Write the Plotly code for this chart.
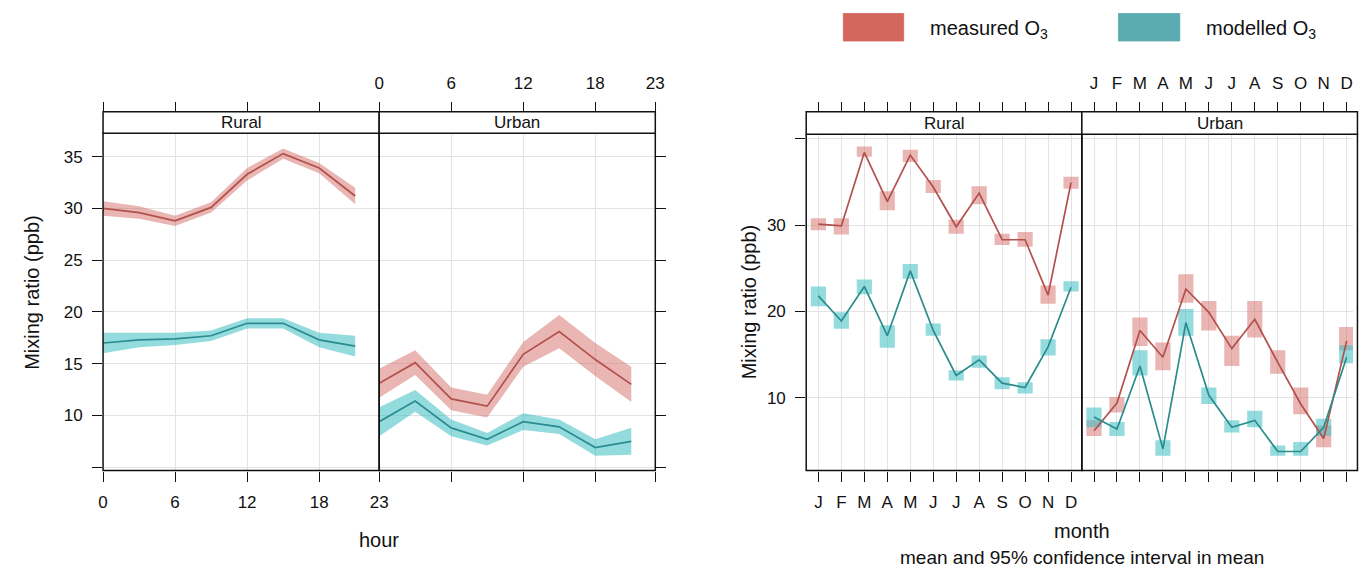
import plotly.graph_objects as go

# page has 8px body margins; the figure fills the rest exactly
W, H = 1370, 579
MRG = 8
FW, FH = W - 2 * MRG, H - 2 * MRG

# ---------------- data ----------------
hours = [0, 3, 6, 9, 12, 15, 18, 21]
hour_ticks = [0, 6, 12, 18, 23]

rural_meas_h = [30.0, 29.6, 28.8, 30.1, 33.3, 35.3, 33.9, 31.2]
rural_meas_h_ci = [0.7, 0.6, 0.5, 0.5, 0.6, 0.5, 0.5, 0.8]
rural_mod_h = [17.0, 17.3, 17.4, 17.7, 18.9, 18.9, 17.3, 16.7]
rural_mod_h_ci = [1.0, 0.7, 0.6, 0.5, 0.5, 0.5, 0.7, 1.0]
urban_meas_h = [13.1, 15.1, 11.6, 10.9, 15.9, 18.1, 15.4, 13.0]
urban_meas_h_ci = [1.4, 1.2, 1.1, 1.1, 1.2, 1.6, 1.6, 1.7]
urban_mod_h = [9.4, 11.4, 8.8, 7.7, 9.4, 8.9, 6.9, 7.5]
urban_mod_h_ci = [1.4, 1.05, 0.8, 0.6, 0.8, 0.7, 0.8, 1.3]

months = list(range(1, 13))
month_labels = ["J", "F", "M", "A", "M", "J", "J", "A", "S", "O", "N", "D"]

rural_meas_m = [30.1, 29.9, 38.4, 32.7, 38.1, 34.4, 29.8, 33.7, 28.3, 28.3, 21.9, 34.9]
rural_meas_m_lo = [29.4, 28.9, 37.9, 31.7, 37.3, 33.7, 29.0, 32.4, 27.7, 27.5, 20.9, 34.2]
rural_meas_m_hi = [30.8, 30.8, 39.1, 33.9, 38.7, 35.2, 30.6, 34.5, 29.0, 29.2, 23.0, 35.6]
rural_mod_m = [21.8, 18.9, 22.9, 17.2, 24.7, 17.8, 12.6, 14.4, 11.7, 11.2, 15.9, 22.8]
rural_mod_m_lo = [20.6, 18.0, 22.0, 15.8, 23.8, 17.2, 12.0, 13.5, 11.0, 10.5, 14.9, 22.3]
rural_mod_m_hi = [22.9, 19.9, 23.7, 18.4, 25.5, 18.6, 13.2, 14.9, 12.4, 11.8, 16.8, 23.5]
urban_meas_m = [6.2, 9.4, 17.8, 14.7, 22.6, 19.9, 15.7, 19.1, 14.1, 9.3, 5.3, 16.6]
urban_meas_m_lo = [5.6, 8.3, 16.0, 13.2, 21.0, 17.8, 13.7, 17.0, 12.8, 8.1, 4.3, 15.5]
urban_meas_m_hi = [7.4, 10.1, 19.3, 16.4, 24.3, 21.2, 17.2, 21.2, 15.5, 11.2, 6.8, 18.2]
urban_mod_m = [7.8, 6.4, 13.7, 4.1, 18.7, 10.3, 6.6, 7.4, 3.8, 3.8, 6.6, 14.7]
urban_mod_m_lo = [6.6, 5.6, 12.6, 3.3, 17.2, 9.3, 6.0, 6.6, 3.3, 3.3, 5.6, 14.0]
urban_mod_m_hi = [8.9, 7.2, 15.5, 5.1, 20.3, 11.2, 7.4, 8.5, 4.5, 4.9, 7.6, 16.1]

y_ticks_hour = [10, 15, 20, 25, 30, 35]
y_minor_hour = [5]
y_ticks_month = [10, 20, 30]
y_minor_month = [40]

# ---------------- styles ----------------
MEAS_LINE = "#b3504c"
MOD_LINE = "#2a8c8e"
MEAS_FILL = "rgba(212,110,105,0.50)"
MOD_FILL = "rgba(60,190,195,0.55)"
MEAS_LEG = "#d4665e"
MOD_LEG = "#5aabb0"
GRID = "#e3e3e3"
TICKFONT = dict(family="Liberation Sans, Arial, sans-serif", size=17, color="#111")
TXTFONT = dict(family="Liberation Sans, Arial, sans-serif", size=20, color="#111")


def px(x):
    return (x - MRG) / FW


def py(y):
    return 1 - (y - MRG) / FH


# panel geometry (page pixels)
L_R = (99, 378)
L_U = (378, 657)
R_R = (809.5, 1088)
R_U = (1088, 1366.5)
FIG_RIGHT = W - MRG
PAN_TOP_L, PAN_BOT = 133.3, 470.5
PAN_TOP_R = 134.3
STRIP_TOP = 111.7

hr_range = [0, 23]
mo_range = [0.47, 12.47]
mo_scale = (mo_range[1] - mo_range[0]) / (R_U[1] - R_U[0])
mo_range_u = [mo_range[0], mo_range[0] + (FIG_RIGHT - R_U[0]) * mo_scale]
y_range_h = [4.68, 37.26]
y_range_m = [1.6, 40.5]

fig = go.Figure()


def band(x, m, ci, fill, xa, ya):
    lo = [a - c for a, c in zip(m, ci)]
    hi = [a + c for a, c in zip(m, ci)]
    fig.add_trace(go.Scatter(x=list(x) + list(x)[::-1], y=hi + lo[::-1], fill="toself",
                             fillcolor=fill, line=dict(width=0), mode="lines",
                             hoverinfo="skip", showlegend=False, xaxis=xa, yaxis=ya))


def line(x, m, color, xa, ya):
    fig.add_trace(go.Scatter(x=x, y=m, mode="lines", line=dict(color=color, width=1.7),
                             showlegend=False, xaxis=xa, yaxis=ya))


def boxes(x, lo, hi, fill, xa, ya):
    fig.add_trace(go.Bar(x=x, y=[h - l for h, l in zip(hi, lo)], base=lo, width=0.66,
                         marker=dict(color=fill, line=dict(width=0)), showlegend=False,
                         xaxis=xa, yaxis=ya))


# left (hour) plot
band(hours, rural_meas_h, rural_meas_h_ci, MEAS_FILL, "x", "y")
band(hours, rural_mod_h, rural_mod_h_ci, MOD_FILL, "x", "y")
line(hours, rural_meas_h, MEAS_LINE, "x", "y")
line(hours, rural_mod_h, MOD_LINE, "x", "y")
band(hours, urban_meas_h, urban_meas_h_ci, MEAS_FILL, "x2", "y2")
band(hours, urban_mod_h, urban_mod_h_ci, MOD_FILL, "x2", "y2")
line(hours, urban_meas_h, MEAS_LINE, "x2", "y2")
line(hours, urban_mod_h, MOD_LINE, "x2", "y2")

# right (month) plot
boxes(months, rural_meas_m_lo, rural_meas_m_hi, MEAS_FILL, "x5", "y3")
boxes(months, rural_mod_m_lo, rural_mod_m_hi, MOD_FILL, "x5", "y3")
line(months, rural_meas_m, MEAS_LINE, "x5", "y3")
line(months, rural_mod_m, MOD_LINE, "x5", "y3")
boxes(months, urban_meas_m_lo, urban_meas_m_hi, MEAS_FILL, "x6", "y4")
boxes(months, urban_mod_m_lo, urban_mod_m_hi, MOD_FILL, "x6", "y4")
line(months, urban_meas_m, MEAS_LINE, "x6", "y4")
line(months, urban_mod_m, MOD_LINE, "x6", "y4")

# dummy traces to instantiate top overlay axes
for xa, ya in [("x3", "y"), ("x4", "y2"), ("x7", "y3"), ("x8", "y4")]:
    fig.add_trace(go.Scatter(x=[None], y=[None], mode="lines", showlegend=False,
                             hoverinfo="skip", xaxis=xa, yaxis=ya))

common_ax = dict(ticks="outside", ticklen=10, tickwidth=1.2, tickcolor="#111",
                 showline=False, zeroline=False, tickfont=TICKFONT, ticklabelstandoff=6)


def ymin(vals, ticks="outside"):
    return dict(tickvals=vals, ticks=ticks, ticklen=10, tickwidth=1.2, tickcolor="#111",
                showgrid=True, gridcolor=GRID)


layout = dict(
    width=FW, height=FH, margin=dict(l=0, r=0, t=0, b=0),
    paper_bgcolor="white", plot_bgcolor="white", barmode="overlay",
    xaxis=dict(domain=[px(L_R[0]), px(L_R[1])], range=hr_range, tickvals=hour_ticks,
               showgrid=True, gridcolor=GRID, anchor="y", **common_ax),
    xaxis2=dict(domain=[px(L_U[0]), px(L_U[1])], range=hr_range, tickvals=hour_ticks,
                showticklabels=False, showgrid=True, gridcolor=GRID, anchor="y2", **common_ax),
    xaxis3=dict(overlaying="x", side="top", anchor="free", position=py(STRIP_TOP),
                range=hr_range, tickvals=hour_ticks, showticklabels=False, showgrid=False, **common_ax),
    xaxis4=dict(overlaying="x2", side="top", anchor="free", position=py(STRIP_TOP),
                range=hr_range, tickvals=hour_ticks, showgrid=False, **common_ax),
    yaxis=dict(domain=[py(PAN_BOT), py(PAN_TOP_L)], range=y_range_h, tickvals=y_ticks_hour,
               minor=ymin(y_minor_hour), showgrid=True, gridcolor=GRID, anchor="x", side="left",
               **common_ax),
    yaxis2=dict(domain=[py(PAN_BOT), py(PAN_TOP_L)], range=y_range_h, tickvals=y_ticks_hour,
                minor=ymin(y_minor_hour), showticklabels=False, showgrid=True, gridcolor=GRID,
                anchor="x2", side="right", **common_ax),
    xaxis5=dict(domain=[px(R_R[0]), px(R_R[1])], range=mo_range, tickvals=months,
                ticktext=month_labels, showgrid=True, gridcolor=GRID, anchor="y3", **common_ax),
    xaxis6=dict(domain=[px(R_U[0]), 1], range=mo_range_u, tickvals=months,
                showticklabels=False, showgrid=True, gridcolor=GRID, anchor="y4", **common_ax),
    xaxis7=dict(overlaying="x5", side="top", anchor="free", position=py(STRIP_TOP),
                range=mo_range, tickvals=months, showticklabels=False, showgrid=False, **common_ax),
    xaxis8=dict(overlaying="x6", side="top", anchor="free", position=py(STRIP_TOP),
                range=mo_range_u, tickvals=months, ticktext=month_labels, showgrid=False, **common_ax),
    yaxis3=dict(domain=[py(PAN_BOT), py(PAN_TOP_R)], range=y_range_m, tickvals=y_ticks_month,
                minor=ymin(y_minor_month), showgrid=True, gridcolor=GRID, anchor="x5", side="left",
                **common_ax),
    yaxis4=dict(domain=[py(PAN_BOT), py(PAN_TOP_R)], range=y_range_m, tickvals=y_ticks_month,
                minor=ymin(y_minor_month, ""), showticklabels=False, showgrid=True, gridcolor=GRID,
                anchor="x6", side="right", **{**common_ax, "ticks": ""}),
)
fig.update_layout(**layout)

shapes = []
annotations = []
BORDER = dict(color="#111", width=1.5)

for (x0, x1), top, name in [(L_R, PAN_TOP_L, "Rural"), (L_U, PAN_TOP_L, "Urban"),
                            (R_R, PAN_TOP_R, "Rural"), (R_U, PAN_TOP_R, "Urban")]:
    shapes.append(dict(type="rect", xref="paper", yref="paper", x0=px(x0), x1=px(x1),
                       y0=py(PAN_BOT), y1=py(top), line=BORDER, fillcolor="rgba(0,0,0,0)", layer="above"))
    shapes.append(dict(type="rect", xref="paper", yref="paper", x0=px(x0), x1=px(x1),
                       y0=py(top), y1=py(STRIP_TOP), line=BORDER, fillcolor="white", layer="above"))
    annotations.append(dict(xref="paper", yref="paper", x=px((x0 + x1) / 2), y=py((top + STRIP_TOP) / 2),
                            text=name, showarrow=False, xanchor="center", yanchor="middle",
                            font=dict(family=TICKFONT["family"], size=17, color="#111")))

annotations += [
    dict(xref="paper", yref="paper", x=px(27), y=py(292), text="Mixing ratio (ppb)", textangle=-90,
         showarrow=False, xanchor="center", yanchor="middle", font=TXTFONT),
    dict(xref="paper", yref="paper", x=px(752), y=py(302), text="Mixing ratio (ppb)", textangle=-90,
         showarrow=False, xanchor="center", yanchor="middle", font=TXTFONT),
    dict(xref="paper", yref="paper", x=px(378), y=py(540), text="hour",
         showarrow=False, xanchor="center", yanchor="middle", font=TXTFONT),
    dict(xref="paper", yref="paper", x=px(1088), y=py(531), text="month",
         showarrow=False, xanchor="center", yanchor="middle", font=TXTFONT),
    dict(xref="paper", yref="paper", x=px(1088), y=py(571), text="mean and 95% confidence interval in mean",
         showarrow=False, xanchor="center", yanchor="bottom", yshift=1,
         font=dict(family=TXTFONT["family"], size=19, color="#111")),
]

for (x0, x1), col, txt, tx in [((847, 908), MEAS_LEG, "measured O<sub>3</sub>", 933),
                               ((1125, 1187), MOD_LEG, "modelled O<sub>3</sub>", 1211)]:
    shapes.append(dict(type="rect", xref="paper", yref="paper", x0=px(x0), x1=px(x1),
                       y0=py(41), y1=py(13.5), line=dict(width=0.8, color=col), fillcolor=col))
    annotations.append(dict(xref="paper", yref="paper", x=px(tx), y=py(29), text=txt,
                            showarrow=False, xanchor="left", yanchor="middle", font=TXTFONT))

fig.update_layout(shapes=shapes, annotations=annotations)
fig.write_html("out.html")
